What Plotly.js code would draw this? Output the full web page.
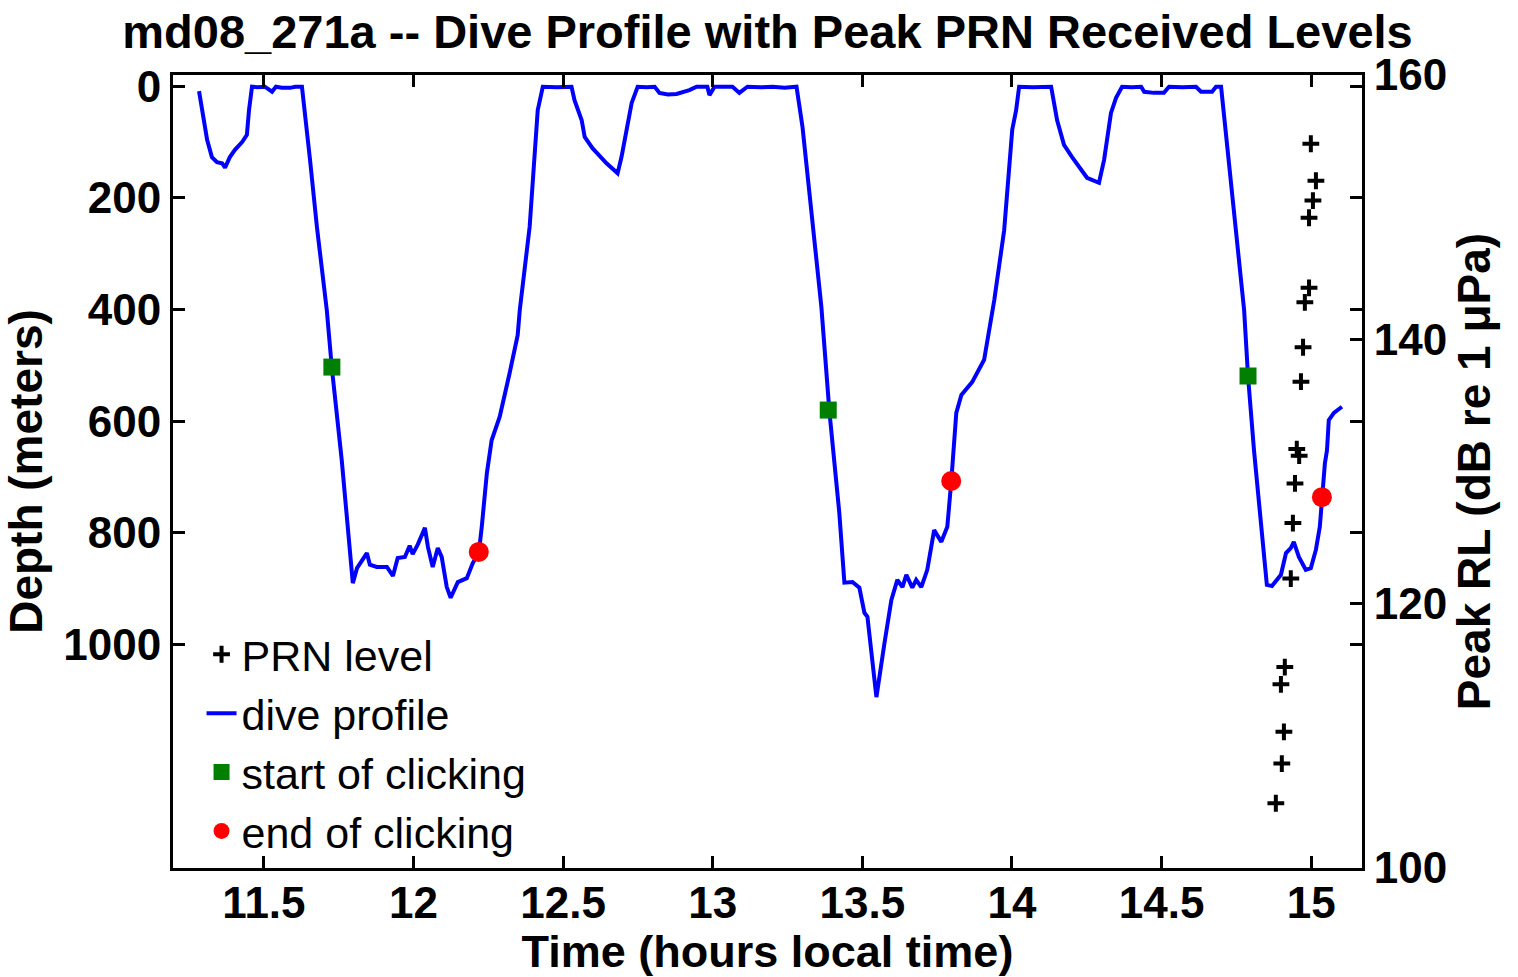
<!DOCTYPE html>
<html>
<head>
<meta charset="utf-8">
<script src="https://cdn.plot.ly/plotly-3.0.1.min.js"></script>
<style>html,body{margin:0;padding:0;background:#fff;}#chart{width:1518px;height:977px;}</style>
</head>
<body>
<div id="chart"></div>
<script>
// Dive profile (time in hours local time, depth in meters)
const diveTime = [11.283,11.293,11.310,11.326,11.343,11.360,11.370,11.386,11.403,11.427,11.443,11.450,11.460,11.480,11.503,11.527,11.540,11.560,11.587,11.605,11.627,
  11.654,11.677,11.710,11.727,11.760,11.797,11.811,11.844,11.854,11.877,11.911,11.931,11.947,11.971,11.987,11.997,12.014,12.038,12.048,12.064,12.081,12.094,12.111,12.124,12.148,12.178,12.198,12.218,
  12.228,12.245,12.261,12.288,12.321,12.348,12.355,12.388,12.415,12.432,12.480,12.528,12.538,12.562,12.572,12.598,12.645,12.682,12.695,12.712,12.729,12.749,12.780,12.806,
  12.822,12.850,12.879,12.922,12.946,12.982,12.989,13.006,13.040,13.066,13.089,13.116,13.160,13.200,13.240,13.280,
  13.300,13.323,13.363,13.390,13.423,13.440,13.467,13.490,13.507,13.517,13.547,13.574,13.597,13.617,13.634,13.647,13.667,13.680,13.697,13.717,13.740,13.764,13.784,13.797,
  13.814,13.831,13.867,13.907,13.941,13.974,14.001,14.014,14.024,14.070,14.131,14.151,14.174,14.201,14.251,14.291,14.308,14.331,14.348,14.368,14.400,14.432,14.442,14.475,14.508,14.525,14.570,14.615,14.632,14.669,14.682,14.699,
  14.725,14.776,14.789,14.809,14.852,14.869,14.899,14.916,14.932,14.942,14.959,14.982,14.999,15.016,15.029,15.036,15.046,15.053,15.059,15.076,15.103];
const diveDepth = [9,43,96,127,136,138,146,127,114,100,87,43,1,2,1,10,1,3,3,1,1,
  132,252,401,505,670,890,863,836,857,861,861,877,845,843,823,838,821,791,825,861,827,843,897,916,888,881,854,836,
  789,693,634,592,514,446,401,252,43,1,2,1,25,61,91,111,138,156,127,79,30,1,2,1,
  12,15,14,7,1,1,16,1,2,1,12,1,2,1,3,1,
  73,191,395,583,764,889,888,898,943,950,1094,997,920,884,897,875,898,884,897,866,795,816,789,709,
  585,553,530,490,383,258,78,43,1,2,1,61,105,127,164,173,132,48,21,1,2,1,10,12,12,1,2,1,10,10,1,1,
  132,401,519,652,893,895,875,836,827,816,843,866,863,830,789,737,675,652,598,585,574];

// Peak PRN received levels (dB re 1 µPa)
const prnTime = [14.999,15.016,15.006,14.993,14.993,14.979,14.973,14.966,14.952,14.960,14.946,14.939,14.932,14.912,14.899,14.909,14.902,14.882];
const prnLevel = [154.8,152.0,150.5,149.2,143.9,142.8,139.4,136.8,131.7,131.2,129.1,126.1,121.9,115.2,113.9,110.3,107.9,104.9];

// Start / end of clicking
const startTime = [11.727,13.386,14.789];
const startDepth = [503,580,519];
const endTime = [12.218,13.797,15.036];
const endDepth = [834,707,736];

const xTicks = [11.5,12,12.5,13,13.5,14,14.5,15];
const xTickText = ['11.5','12','12.5','13','13.5','14','14.5','15'];
const depthTicks = [0,200,400,600,800,1000];
const rlTicks = [100,120,140,160];

const boldFont = {family:'Liberation Sans, Arial, sans-serif', size:46, color:'#000', weight:'bold'};
const xTitleFont = {family:'Liberation Sans, Arial, sans-serif', size:45, color:'#000', weight:'bold'};
const titleFont = {family:'Liberation Sans, Arial, sans-serif', size:47, color:'#000', weight:'bold'};
const tickFont = {family:'Liberation Sans, Arial, sans-serif', size:44, color:'#000', weight:'bold'};

const traces = [
  {x: prnTime, y: prnLevel, yaxis:'y2', type:'scatter', mode:'markers', name:'PRN level',
   marker:{symbol:'cross-thin', size:12, color:'#000', line:{color:'#000', width:4}}},
  {x: diveTime, y: diveDepth, type:'scatter', mode:'lines', name:'dive profile',
   line:{color:'#0000FF', width:4}},
  {x: startTime, y: startDepth, type:'scatter', mode:'markers', name:'start of clicking',
   marker:{symbol:'square', size:17, color:'#007F00'}},
  {x: endTime, y: endDepth, type:'scatter', mode:'markers', name:'end of clicking',
   marker:{symbol:'circle', size:20, color:'#FF0000'}}
];

const layout = {
  width:1518, height:977,
  margin:{l:173, r:156, t:75, b:109},
  paper_bgcolor:'#fff', plot_bgcolor:'#fff',
  showlegend:true,
  title:{text:'md08_271a -- Dive Profile with Peak PRN Received Levels', font:titleFont,
    xref:'paper', x:0.5, xanchor:'center', yref:'container', y:1-32/977, yanchor:'middle'},
  xaxis:{range:[11.196,15.17], tickvals:xTicks, ticktext:xTickText, ticks:'inside', ticklen:12, tickwidth:3,
    tickcolor:'#000', showline:true, linecolor:'#000', linewidth:3, mirror:'ticks', showgrid:false, zeroline:false,
    ticklabelstandoff:-6,
    tickfont:tickFont, title:{text:'Time (hours local time)', font:xTitleFont, standoff:4}},
  yaxis:{range:[1400,-20], tickvals:depthTicks, ticks:'inside', ticklen:12, tickwidth:3,
    tickcolor:'#000', showline:true, linecolor:'#000', linewidth:3, mirror:'ticks', showgrid:false, zeroline:false,
    tickfont:tickFont, title:{text:'Depth (meters)', font:boldFont, standoff:8}},
  yaxis2:{range:[100,160], tickvals:rlTicks, overlaying:'y', side:'right', ticks:'inside', ticklen:12, tickwidth:3,
    tickcolor:'#000', showline:true, linecolor:'#000', linewidth:3, showgrid:false, zeroline:false,
    tickfont:tickFont, title:{text:'Peak RL (dB re 1 μPa)', font:boldFont, standoff:12}},
  legend:{x:0.024, y:0.313, xanchor:'left', yanchor:'top', bgcolor:'rgba(255,255,255,0)', borderwidth:0,
    font:{family:'Liberation Sans, Arial, sans-serif', size:43, color:'#000'}, traceorder:'normal', itemwidth:30}
};

Plotly.newPlot('chart', traces, layout, {staticPlot:true, displayModeBar:false});
</script>
</body>
</html>
